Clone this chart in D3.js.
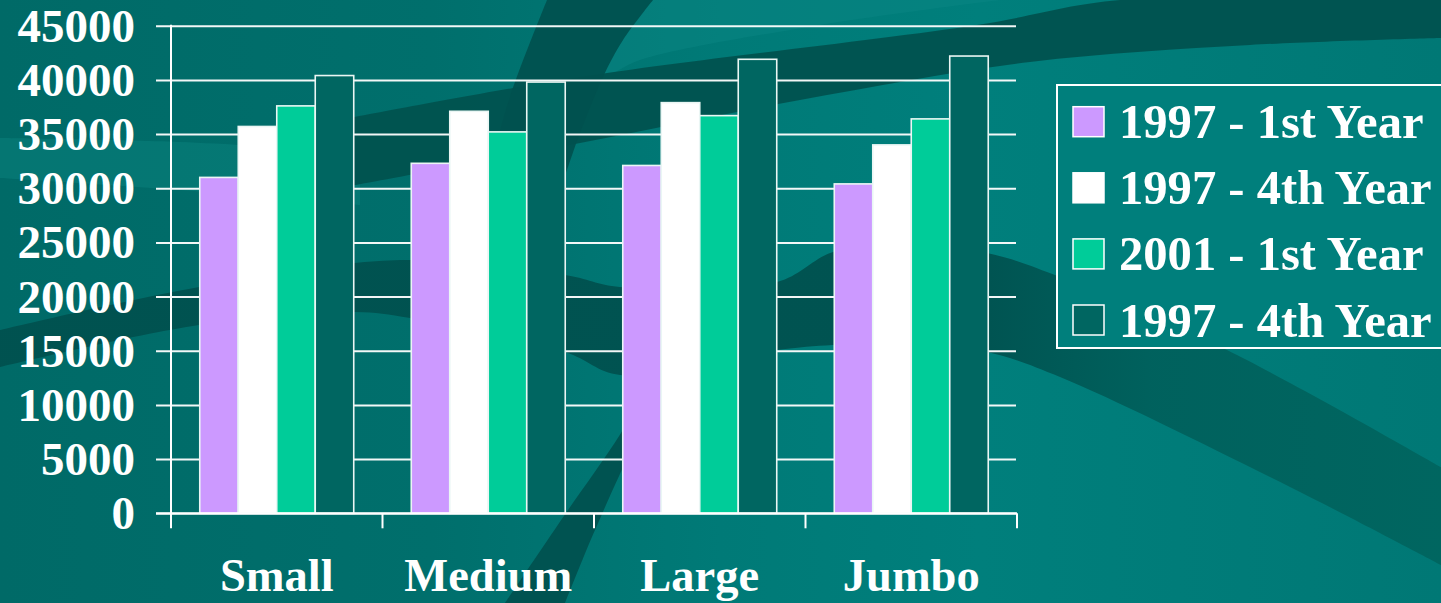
<!DOCTYPE html>
<html>
<head>
<meta charset="utf-8">
<script src="https://cdn.jsdelivr.net/npm/d3@7"></script>
<style>
  html, body { margin: 0; padding: 0; background: #006e6b; overflow: hidden; }
  svg { display: block; }
  text { font-family: "Liberation Serif", "Times New Roman", serif; font-weight: bold; fill: #ffffff; }
</style>
</head>
<body>
<svg id="chart" width="1441" height="603"></svg>
<script>
// ---- data ----
const categories = ["Small", "Medium", "Large", "Jumbo"];
const seriesNames = ["1997 - 1st Year", "1997 - 4th Year", "2001 - 1st Year", "1997 - 4th Year"];
const series1 = [31000, 32300, 32100, 30400];   // 1997 - 1st Year
const series2 = [35700, 37100, 37900, 34000];   // 1997 - 4th Year
const series3 = [37600, 35200, 36700, 36400];   // 2001 - 1st Year
const series4 = [40400, 39800, 41900, 42200];   // 1997 - 4th Year
const yTicks = [0, 5000, 10000, 15000, 20000, 25000, 30000, 35000, 40000, 45000];
const seriesColors = ["#cc99ff", "#ffffff", "#00cc99", "#006661"];

const allSeries = [series1, series2, series3, series4];

const W = 1441, H = 603;
const svg = d3.select("#chart");

// ---- background (decorative slide template) ----
const defs = svg.append("defs");
const bg = defs.append("linearGradient").attr("id", "bgGrad").attr("x1", "0").attr("x2", "1").attr("y1", "0").attr("y2", "0");
bg.append("stop").attr("offset", "0").attr("stop-color", "#006a67");
bg.append("stop").attr("offset", "0.3").attr("stop-color", "#006f6c");
bg.append("stop").attr("offset", "0.5").attr("stop-color", "#007a77");
bg.append("stop").attr("offset", "0.68").attr("stop-color", "#007f7c");
bg.append("stop").attr("offset", "1").attr("stop-color", "#007875");
svg.append("rect").attr("width", W).attr("height", H).attr("fill", "url(#bgGrad)");

const dk = defs.append("linearGradient").attr("id", "darkGrad").attr("gradientUnits", "userSpaceOnUse")
  .attr("x1", 0).attr("x2", W).attr("y1", 0).attr("y2", 0);
dk.append("stop").attr("offset", "0").attr("stop-color", "#00514f");
dk.append("stop").attr("offset", "0.68").attr("stop-color", "#00514f");
dk.append("stop").attr("offset", "0.8").attr("stop-color", "#00605c");
dk.append("stop").attr("offset", "1").attr("stop-color", "#00655f");

const deco = svg.append("g");
const smooth = d3.line().curve(d3.curveCatmullRom.alpha(0.5));
function band(top, bottom, fill, op) {
  const d = smooth(top) + "L" + smooth(bottom).slice(1) + "Z";
  deco.append("path").attr("d", d).attr("fill", fill).attr("opacity", op);
}
// lighter sweep at left
band([[0,138],[180,142],[360,152]], [[360,205],[180,190],[0,178]], "#0a8581", 0.45);
// lighter arc right of the central band (top)
band([[653,0],[1000,0]], [[1000,0],[820,25],[640,60],[603,77],[623,40],[653,0]], "#0a8884", 0.45);
// dark band B (sloping up to the right)
band([[350,118],[580,77],[977,25],[1120,0],[1441,0]], [[1441,38],[1250,45],[1030,62],[800,100],[580,143],[350,186]], "#00524f", 0.95);
// dark central band A1 (top, curving down-left)
band([[547,0],[510,97],[490,170],[470,260]], [[520,260],[555,200],[580,133],[603,77],[623,40],[653,0]], "#00514f", 0.95);
// dark band A2 (from bottom, up to the right)
band([[505,603],[566,513],[621,433],[680,330]], [[700,330],[640,433],[595,530],[565,603]], "#00514f", 0.95);
// dark arch band C / E
band([[0,330],[199,287],[400,260],[565,275],[620,287],[777,282],[833,252],[900,245],[987,253],[1060,277],[1227,350],[1441,467]],
     [[1441,565],[1290,487],[1060,377],[987,352],[900,343],[833,345],[777,350],[620,375],[565,352],[410,318],[354,312],[199,325],[0,367]],
     "url(#darkGrad)", 0.95);

// ---- scales ----
const x0 = d3.scaleBand().domain(categories).range([171, 1017]).paddingInner(0.272).paddingOuter(0.136);
const x1 = d3.scaleBand().domain(d3.range(allSeries.length)).range([0, x0.bandwidth()]).padding(0);
const y = d3.scaleLinear().domain([0, 45000]).range([513.3, 25.7]);

// ---- gridlines + y axis ----
const yAxis = d3.axisLeft(y).tickValues(yTicks).tickSize(-(1016 - 171)).tickFormat(d => d).tickPadding(36);
const yg = svg.append("g").attr("transform", "translate(171,0)").call(yAxis);
yg.select(".domain").remove();
yg.selectAll(".tick line").attr("x1", -15).attr("stroke", "#ffffff").attr("stroke-width", 2).attr("stroke-opacity", 0.95);
yg.selectAll(".tick text").attr("font-size", 47).attr("font-family", "Liberation Serif, Times New Roman, serif")
  .attr("font-weight", "bold").attr("fill", "#ffffff").attr("dy", "0.33em");

// vertical axis line
svg.append("line").attr("x1", 171).attr("x2", 171).attr("y1", y(45000) - 1).attr("y2", 528)
  .attr("stroke", "#ffffff").attr("stroke-width", 2);

// ---- bars ----
const groups = svg.append("g").selectAll("g").data(categories).join("g")
  .attr("transform", d => `translate(${x0(d)},0)`);
groups.selectAll("rect")
  .data((c, ci) => allSeries.map((s, si) => ({ si, v: s[ci] })))
  .join("rect")
  .attr("x", d => x1(d.si))
  .attr("width", x1.bandwidth())
  .attr("y", d => y(d.v))
  .attr("height", d => y(0) - y(d.v))
  .attr("fill", d => seriesColors[d.si])
  .attr("stroke", "#eaf6f4")
  .attr("stroke-width", 1.6);

// ---- x axis ----
const xAxisG = svg.append("g").attr("transform", `translate(0,${y(0)})`);
xAxisG.append("line").attr("x1", 156).attr("x2", 1017).attr("y1", 0).attr("y2", 0)
  .attr("stroke", "#ffffff").attr("stroke-width", 2);
const boundaries = categories.map(c => x0(c) - x0.step() * x0.paddingOuter()).concat([1017]);
xAxisG.selectAll(".xtick").data(boundaries).join("line").attr("class", "xtick")
  .attr("x1", d => d).attr("x2", d => d).attr("y1", 0).attr("y2", 15)
  .attr("stroke", "#ffffff").attr("stroke-width", 2);
svg.append("g").selectAll("text").data(categories).join("text")
  .attr("x", d => x0(d) + x0.bandwidth() / 2)
  .attr("y", 591)
  .attr("text-anchor", "middle")
  .attr("font-size", 46.5)
  .text(d => d);

// ---- legend ----
const lg = svg.append("g");
lg.append("rect").attr("x", 1057).attr("y", 85).attr("width", 400).attr("height", 263)
  .attr("fill", "#007f7c").attr("stroke", "#ffffff").attr("stroke-width", 2);
const rowY = d3.scalePoint().domain(d3.range(seriesNames.length)).range([121.7, 320]);
const items = lg.selectAll("g.item").data(seriesNames).join("g").attr("class", "item")
  .attr("transform", (d, i) => `translate(0,${rowY(i)})`);
items.append("rect").attr("x", 1073).attr("y", -15).attr("width", 31).attr("height", 30)
  .attr("fill", (d, i) => seriesColors[i]).attr("stroke", "#ffffff").attr("stroke-width", 1.5);
items.append("text").attr("x", 1119).attr("y", 16.5).attr("font-size", 48.6).text(d => d);
</script>
</body>
</html>
